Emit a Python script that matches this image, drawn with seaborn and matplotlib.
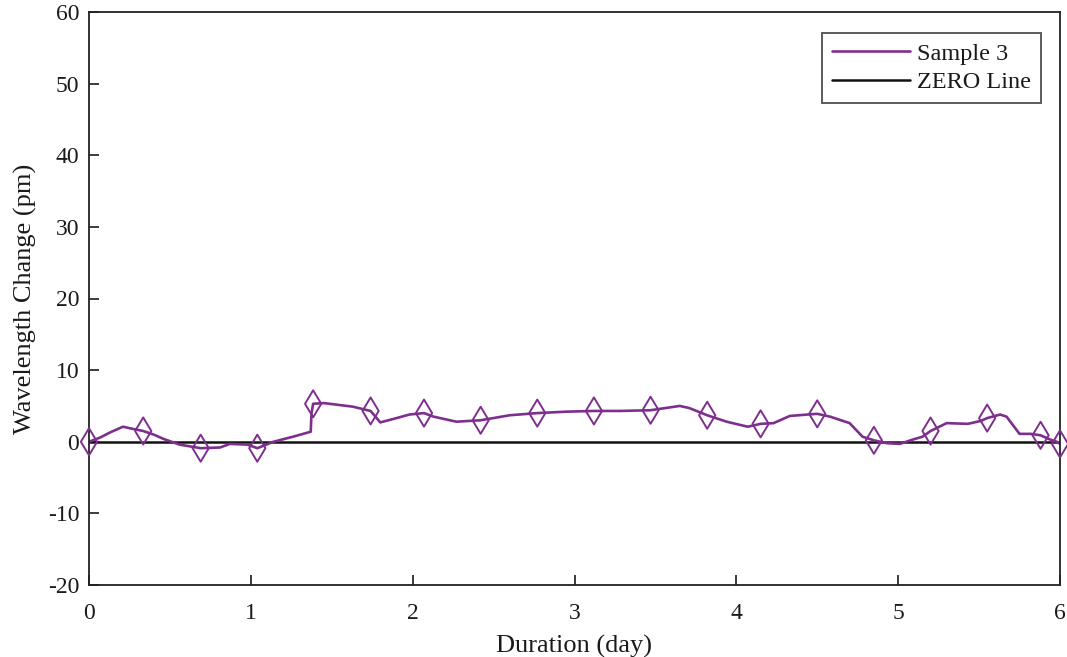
import numpy as np
import pandas as pd
import matplotlib
matplotlib.use("Agg")
import matplotlib.pyplot as plt
import seaborn as sns
from matplotlib.lines import Line2D

# values
day = [0, 0.07, 0.13, 0.21, 0.27, 0.335, 0.40, 0.46, 0.56, 0.69, 0.81, 0.87, 0.98, 1.04,
       1.14, 1.26, 1.37, 1.375, 1.385, 1.45, 1.63, 1.74, 1.80, 1.90, 1.98, 2.07, 2.13,
       2.27, 2.42, 2.60, 2.77, 2.95, 3.12, 3.28, 3.47, 3.65, 3.71, 3.82, 3.94, 4.07, 4.15,
       4.23, 4.33, 4.44, 4.50, 4.58, 4.70, 4.78, 4.85, 4.93, 5.01, 5.09, 5.15, 5.20, 5.30,
       5.43, 5.51, 5.55, 5.63, 5.67, 5.75, 5.82, 5.88, 5.94, 5.98, 6.0]
shift = [0, 0.6, 1.3, 2.1, 1.8, 1.5, 1.0, 0.4, -0.4, -0.9, -0.8, -0.3, -0.4, -0.9,
         0.0, 0.7, 1.4, 4.0, 5.3, 5.4, 4.9, 4.3, 2.7, 3.3, 3.8, 4.0, 3.5,
         2.8, 3.0, 3.7, 4.0, 4.2, 4.3, 4.3, 4.4, 5.0, 4.7, 3.7, 2.8, 2.1, 2.5,
         2.6, 3.6, 3.8, 3.9, 3.5, 2.6, 0.7, 0.2, -0.2, -0.3, 0.3, 0.7, 1.5, 2.6,
         2.5, 2.9, 3.3, 3.8, 3.5, 1.1, 1.1, 0.9, 0.3, 0.0, -0.3]
marker_day = [0, 0.335, 0.69, 1.04, 1.385, 1.74, 2.07, 2.42, 2.77, 3.12, 3.47, 3.82,
              4.15, 4.50, 4.85, 5.20, 5.55, 5.88, 6.0]

df = pd.DataFrame({"day": day, "shift": shift})
mk = df[df["day"].isin(marker_day)]

purple = "#7E2F8E"

sns.set_style("white")
plt.rcParams["font.family"] = ["Liberation Serif", "DejaVu Serif"]
plt.rcParams["axes.unicode_minus"] = False
plt.rcParams["text.color"] = "#1a1a1a"

fig = plt.figure(figsize=(10.67, 6.57), dpi=100)
ax = fig.add_axes([89 / 1067, 72 / 657, 971 / 1067, 573 / 657])

ax.axhline(0, color="#111111", lw=1.8, zorder=1)
sns.lineplot(data=df, x="day", y="shift", sort=False, estimator=None,
             color=purple, lw=1.9, ax=ax, zorder=2)
sns.scatterplot(data=mk, x="day", y="shift", marker="d", s=190, facecolor="none",
                edgecolor=purple, linewidth=1.4, ax=ax, legend=False, zorder=3,
                clip_on=False)

ax.set_xlim(0, 6)
ax.set_ylim(-20, 60)
ax.set_xticks(range(0, 7))
ax.set_yticks(range(-20, 61, 10))
ax.tick_params(direction="in", length=7, width=1.2, labelsize=17, colors="#1a1a1a",
               top=False, right=False, bottom=True, left=True, pad=7)
ax.tick_params(axis="x", pad=13)
for s in ax.spines.values():
    s.set_color("#222222")
    s.set_linewidth(1.3)

ax.set_xlabel("Duration (day)", fontsize=19, labelpad=8, color="#1a1a1a")
ax.set_ylabel("Wavelength Change (pm)", fontsize=19, labelpad=8, color="#1a1a1a")

handles = [Line2D([], [], color=purple, lw=1.9),
           Line2D([], [], color="#111111", lw=1.8)]
leg = ax.legend(handles, ["Sample 3", "ZERO Line"], loc="upper right",
                fontsize=17.5, frameon=True, fancybox=False, edgecolor="#222222",
                handlelength=3.2, handletextpad=0.3, borderpad=0.4,
                labelspacing=0.25, borderaxespad=0, bbox_to_anchor=(0.980, 0.963))
leg.get_frame().set_linewidth(1.3)

fig.savefig("out.png", dpi=100)
